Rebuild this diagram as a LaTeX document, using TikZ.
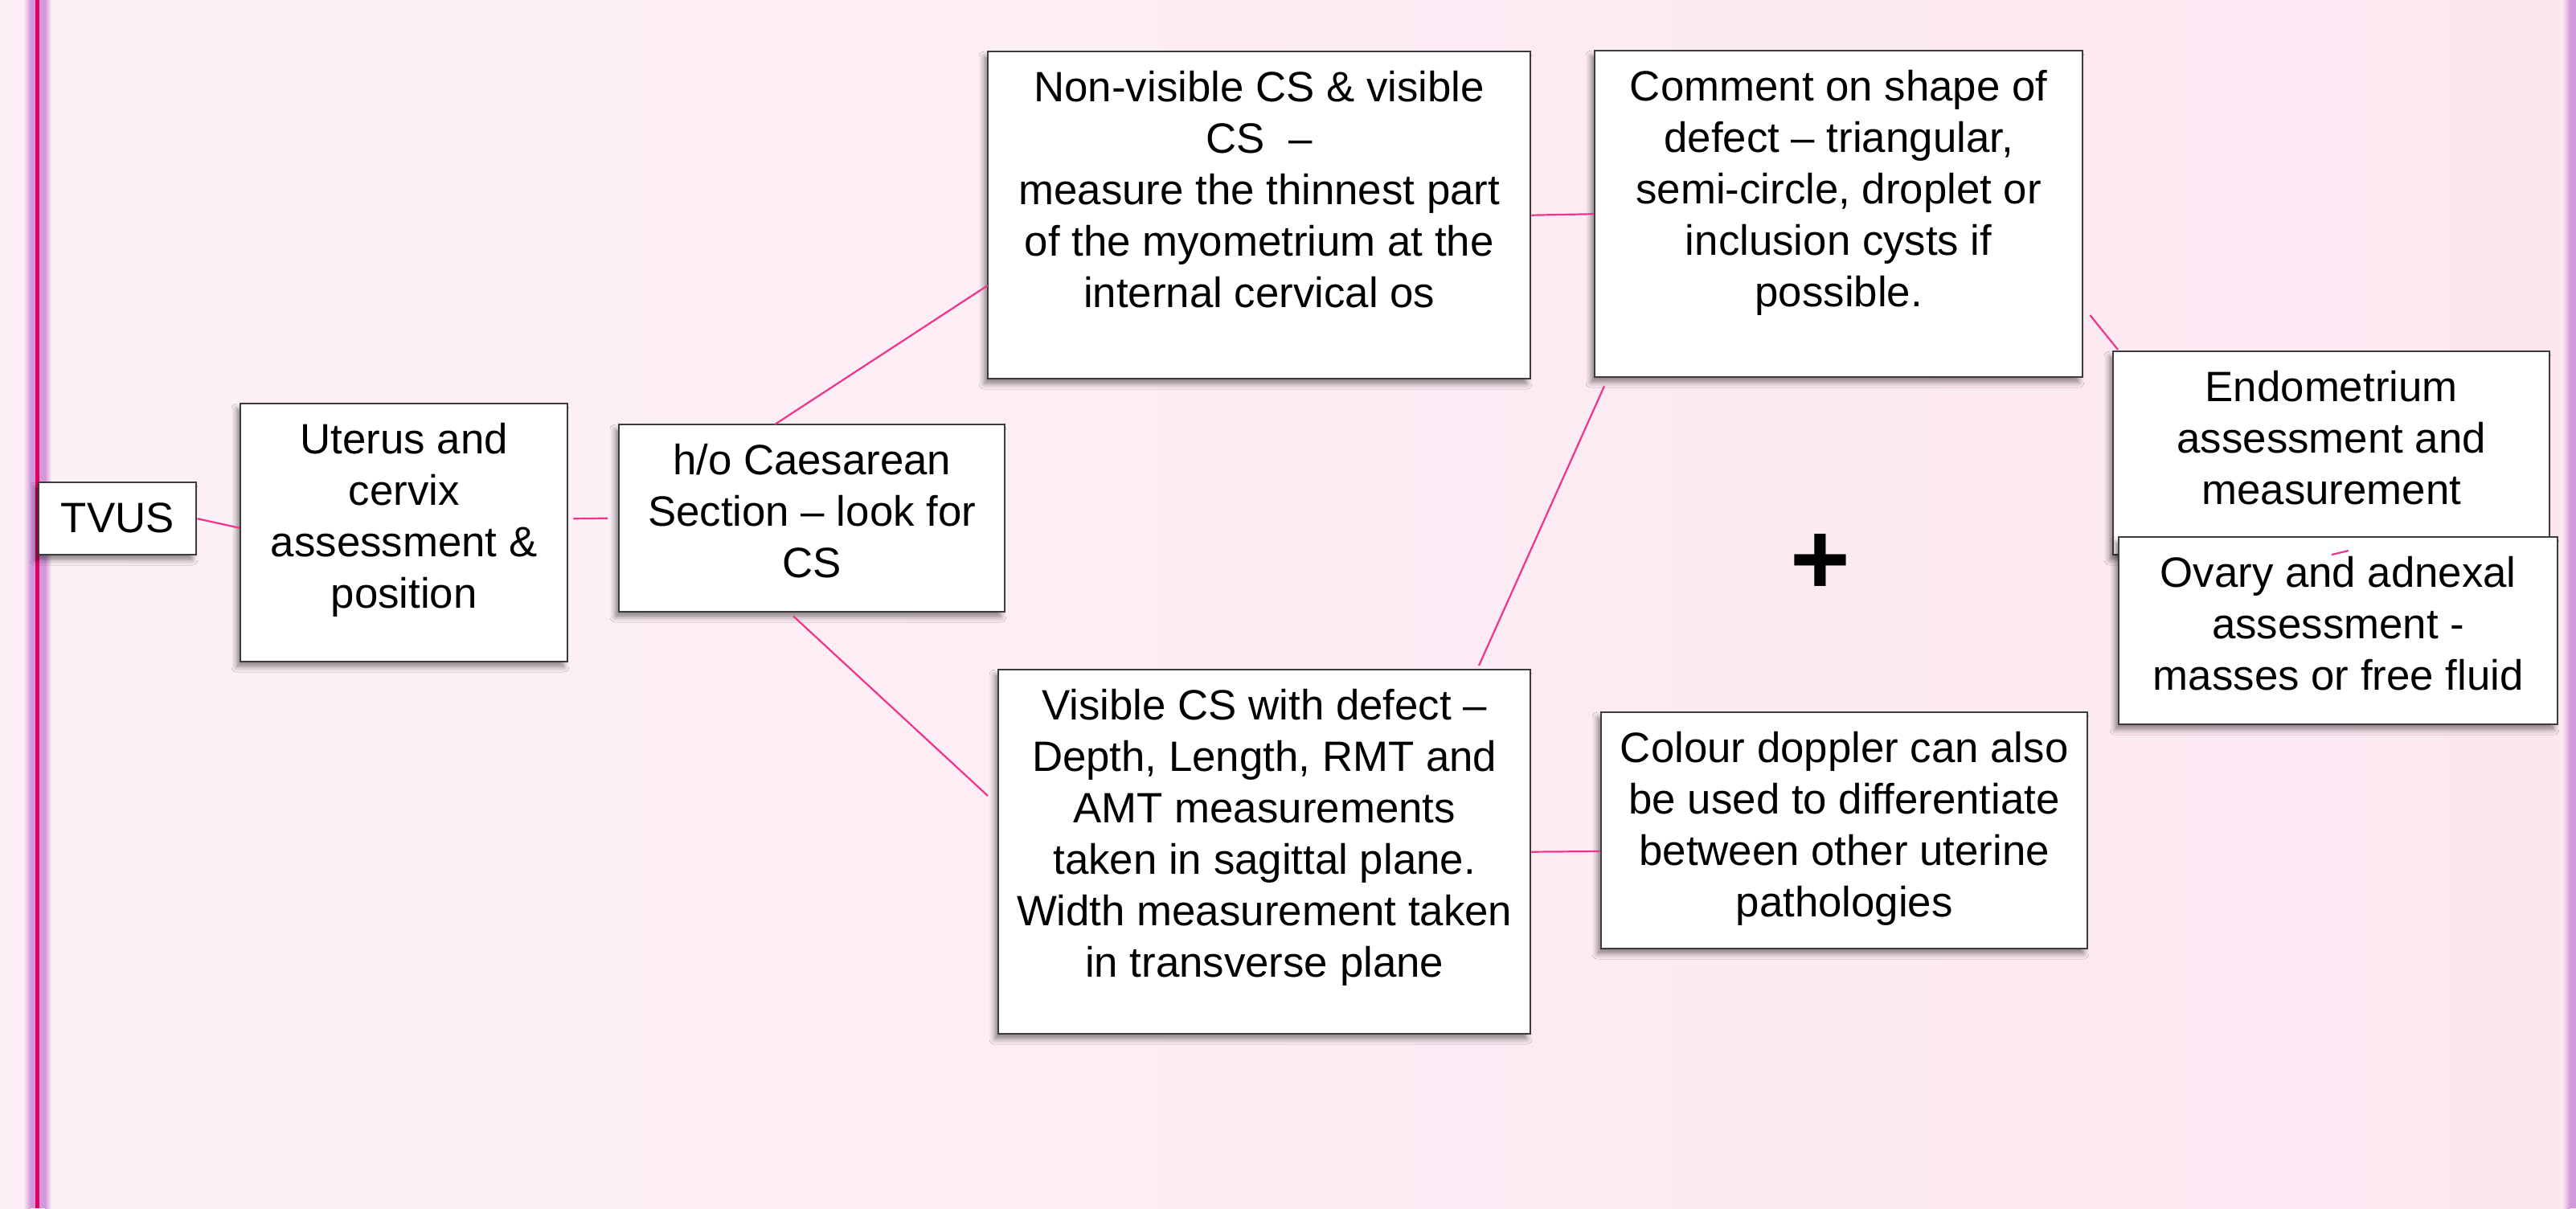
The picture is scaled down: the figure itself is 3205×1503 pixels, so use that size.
\documentclass[tikz,border=0pt]{standalone}
\usepackage{fontspec}
\setmainfont{Liberation Sans}
\usetikzlibrary{calc,shadows.blur}
\definecolor{bgA}{RGB}{253,241,247}
\definecolor{bgB}{RGB}{252,231,241}
\definecolor{glow}{RGB}{210,152,220}
\definecolor{redline}{RGB}{228,0,96}
\definecolor{conn}{RGB}{240,52,140}
\definecolor{boxline}{RGB}{60,60,60}
\newcommand{\bxt}[3]{\parbox[c][#2][t]{#1}{\centering\rule{0pt}{15.5pt}#3\par}}
\tikzset{
  box/.style={draw=boxline, line width=0.6pt, fill=white, inner sep=0pt, anchor=north west,
    font=\fontsize{13.2pt}{16pt}\selectfont,
    blur shadow={shadow xshift=-1.2pt, shadow yshift=-1.6pt, shadow blur radius=1.6pt, shadow blur steps=6, shadow opacity=45}},
  conn/.style={draw=conn, line width=0.55pt}
}
\begin{document}
\begin{tikzpicture}[x=0.25pt, y=-0.25pt]
\useasboundingbox (0,0) rectangle (3205,1503);
% background
\shade[left color=bgA, right color=bgB] (0,0) rectangle (3205,1503);
% left border glow and line
\shade[left color=bgA, right color=glow] (29,0) rectangle (38,1503);
\fill[glow] (38,0) rectangle (56,1503);
\shade[left color=glow, right color=bgA] (56,0) rectangle (64,1503);
\fill[redline] (44,0) rectangle (49,1503);
% right border glow
\shade[left color=bgB, right color=glow] (3188,0) rectangle (3198,1503);
\fill[glow] (3198,0) rectangle (3205,1503);

% boxes
\node[box] (tvus) at (47,599) {\bxt{49pt}{22.5pt}{TVUS}};
\node[box] (ut) at (298,501) {\bxt{101.75pt}{80.25pt}{Uterus and\\cervix\\assessment \&\\position}};
\node[box] (hocs) at (769,527) {\bxt{120pt}{58.25pt}{h/o Caesarean\\Section – look for\\CS}};
\node[box] (nonvis) at (1228,63) {\bxt{168.75pt}{101.75pt}{Non-visible CS \& visible\\CS\ \ –\\measure the thinnest part\\of the myometrium at the\\internal cervical os}};
\node[box] (comment) at (1983,62) {\bxt{151.75pt}{101.5pt}{Comment on shape of\\defect – triangular,\\semi-circle, droplet or\\inclusion cysts if\\possible.}};
\node[box] (visible) at (1241,832) {\bxt{165.5pt}{113.25pt}{Visible CS with defect –\\Depth, Length, RMT and\\AMT measurements\\taken in sagittal plane.\\Width measurement taken\\in transverse plane}};
\node[box] (colour) at (1991,885) {\bxt{151.25pt}{73.5pt}{Colour doppler can also\\be used to differentiate\\between other uterine\\pathologies}};

% connectors
\draw[conn] (tvus.east) -- ($(ut.west)+(0,-6)$);
\draw[conn] ($(ut.east)+(6,-17.5)$) -- ($(hocs.west)+(-13,0)$);
\draw[conn] ($(hocs.north west)+(195,1)$) -- ($(nonvis.north west)+(1,292)$);
\draw[conn] ($(hocs.south west)+(218,4)$) -- ($(visible.north west)+(-12,158)$);
\draw[conn] (nonvis.east) -- (comment.west);
\draw[conn] ($(visible.north west)+(599,-4)$) -- ($(comment.south west)+(13,10)$);
\draw[conn] (visible.east) -- ($(colour.north west)+(0,174)$);

\node[box] (endo) at (2628,436) {\bxt{135.75pt}{63.25pt}{Endometrium\\assessment and\\measurement}};
\draw[conn] ($(comment.north east)+(8,330)$) -- ($(endo.north west)+(7,-1)$);
\node[box] (ovary) at (2635,667) {\bxt{136.5pt}{58.25pt}{Ovary and adnexal\\assessment -\\masses or free fluid}};
\draw[conn] ($(ovary.north west)+(266,23)$) -- ($(ovary.north west)+(287,18)$);

% plus sign
\node[font=\fontsize{32pt}{32pt}\selectfont\bfseries, inner sep=0pt] (plus) at (2265,702) {+};
\end{tikzpicture}
\end{document}
